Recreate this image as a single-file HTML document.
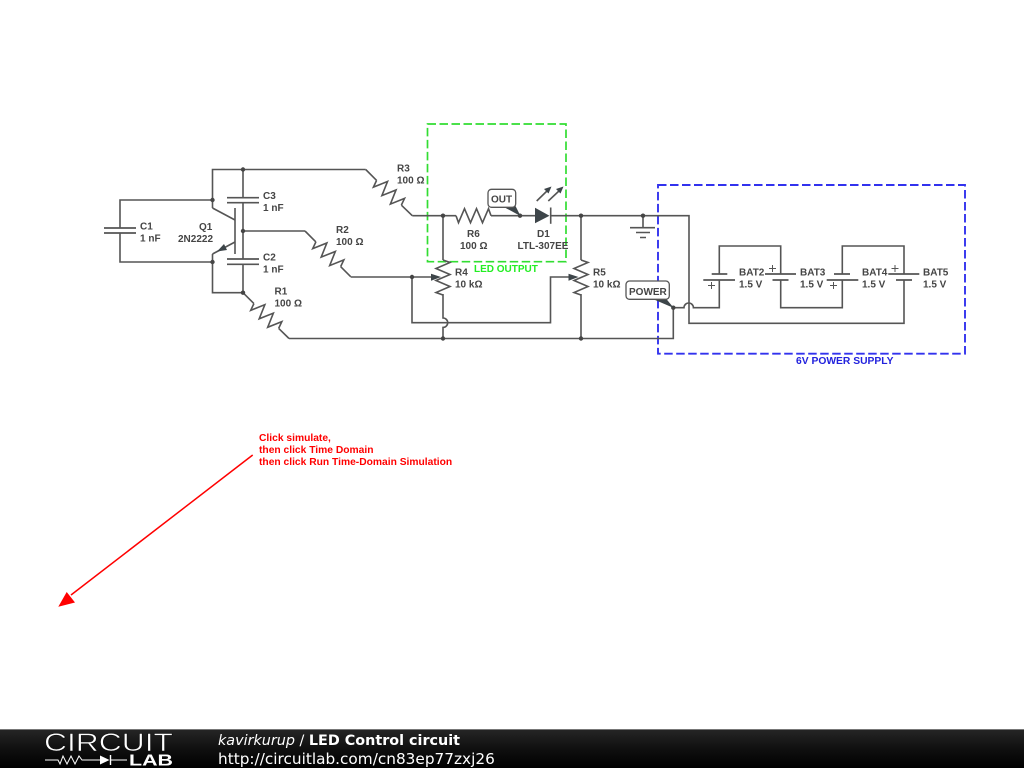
<!DOCTYPE html>
<html><head><meta charset="utf-8"><style>
html,body{margin:0;padding:0;background:#fff;width:1024px;height:768px;overflow:hidden}
svg{display:block}
.w{fill:none;stroke:#555;stroke-width:1.6}
.p{fill:none;stroke:#555;stroke-width:1.7}
text{font-family:"Liberation Sans",sans-serif;font-size:10px;fill:#444;font-weight:bold}
.d{fill:#444}
.f{fill:#fff;stroke:#555;stroke-width:1.3}
.t{fill:#3c4448}
</style></head><body>
<svg width="1024" height="768" viewBox="0 0 1024 768" xmlns="http://www.w3.org/2000/svg">
<defs>
<path id="z" d="M0 0L2.5 7L8.5 -7L14.5 7L20.5 -7L26.5 7L32.5 -7L35 0" fill="none" stroke="#555" stroke-width="1.6" stroke-linejoin="miter"/>
<filter id="b" filterUnits="userSpaceOnUse" x="0" y="0" width="1024" height="768"><feGaussianBlur stdDeviation="0.35"/></filter>
<linearGradient id="g" x1="0" y1="0" x2="0" y2="1"><stop offset="0" stop-color="#262626"/><stop offset="0.5" stop-color="#101010"/><stop offset="1" stop-color="#000"/></linearGradient>
</defs>
<rect width="1024" height="768" fill="#fff"/>
<g filter="url(#b)">
<!-- boxes -->
<rect x="427.5" y="124" width="138.5" height="137.7" fill="none" stroke="#33dd33" stroke-width="1.7" stroke-dasharray="8.5 3.5"/>
<rect x="658" y="185" width="307" height="168.7" fill="none" stroke="#3333ee" stroke-width="1.9" stroke-dasharray="8.5 3.5"/>

<!-- wires left -->
<path class="w" d="M212.5 208V169.5H365.7"/>
<path class="w" d="M212.5 200H120V228M120 233V262H212.5"/>
<path class="w" d="M243 169.5V197.7M243 202.7V259M243 264.3V292.7"/>
<path class="w" d="M212.5 254V292.7H243"/>
<path class="w" d="M243 231H305"/>
<path class="p" d="M104 228H136M104 233H136"/>
<path class="p" d="M227 197.7H259M227 202.7H259M227 259H259M227 264.3H259"/>
<!-- Q1 -->
<path class="w" d="M235 208V254" stroke-width="1.8"/>
<path class="w" d="M212.5 208L235 220M235 242L212.5 254"/>
<path class="t" d="M217 251.5L224 244L227 250Z"/>

<!-- resistors diagonal -->
<path class="w" d="M365.7 169.5L376.6 180.4M401.4 205.2L412.3 215.7"/>
<use href="#z" transform="translate(376.6 180.4) rotate(45)"/>
<path class="w" d="M305 231L315.9 241.9M340.7 266.7L350.7 276.7"/>
<use href="#z" transform="translate(315.9 241.9) rotate(45)"/>
<path class="w" d="M243 292.7L253.9 303.6M278.7 328.4L289 338.5"/>
<use href="#z" transform="translate(253.9 303.6) rotate(45)"/>

<!-- main wires -->
<path class="w" d="M412.3 215.7H456M491 215.7H535M550.7 215.7H689V323.3H904V280"/>
<use href="#z" transform="translate(456 215.7)"/>
<path class="w" d="M350.7 277H432M412 277V322.7H550.5V277H569"/>
<path class="w" d="M289 338.5H673.3V307.7H684A4.7 4.7 0 0 1 693.4 307.7H719.3V280"/>

<!-- R4 R5 -->
<path class="w" d="M443 215.7V260M443 294V318A4.7 4.7 0 0 1 443 327.4V338.5"/>
<use href="#z" transform="translate(443 260) rotate(90) scale(1 -1)"/>
<path class="t" d="M441 277L431 273.7V280.7Z"/>
<path class="w" d="M581 215.7V260M581 294V338.5"/>
<use href="#z" transform="translate(581 260) rotate(90) scale(1 -1)"/>
<path class="t" d="M578.5 277L568.5 273.7V280.7Z"/>

<!-- D1 -->
<path class="t" d="M535 207.7L549.5 215.7L535 223.3Z"/>
<path class="w" d="M550.7 207.5V223.8"/>
<path class="w" d="M536.7 201L548 190" stroke-width="1.2"/>
<path class="t" d="M551.5 186.5L544 189L548.5 193.5Z"/>
<path class="w" d="M548.3 201L560 190" stroke-width="1.2"/>
<path class="t" d="M563.5 186.5L556 189L560.5 193.5Z"/>

<!-- ground -->
<path class="w" d="M643 215.7V227.7M630 227.7H655M636 232.5H650M640 237.5H646"/>

<!-- batteries -->
<path class="w" d="M719.3 274V246H780.7V274"/>
<path class="w" d="M780.7 280V307.7H842.3V280"/>
<path class="w" d="M842.3 274V246H904V274"/>
<path class="p" d="M711.7 274H727.3M703.3 280H735"/>
<path class="p" d="M765 274H796M772.5 280H788.5"/>
<path class="p" d="M834 274H850M826.7 280H858.3"/>
<path class="p" d="M888.3 274H919.3M896 280H912"/>
<path stroke="#555" stroke-width="1" fill="none" d="M708 285.5H715M711.5 282V289M769 268.5H776M772.5 265V272M830 285.5H837M833.5 282V289M891.5 268.5H898.5M895 265V272"/>

<!-- nodes -->
<g class="d">
<circle cx="212.5" cy="200" r="2.2"/><circle cx="212.5" cy="262" r="2.2"/><circle cx="243" cy="169.5" r="2.2"/><circle cx="243" cy="231" r="2.2"/><circle cx="243" cy="292.7" r="2.2"/>
<circle cx="443" cy="215.7" r="2.2"/><circle cx="412" cy="277" r="2.2"/><circle cx="443" cy="338.5" r="2.2"/><circle cx="581" cy="338.5" r="2.2"/><circle cx="581" cy="215.7" r="2.2"/><circle cx="643" cy="215.7" r="2.2"/><circle cx="520" cy="215.7" r="2.2"/><circle cx="673.3" cy="307.7" r="2.2"/>
</g>

<!-- flags -->
<path class="t" d="M502 206L515.5 206L520.5 216Z"/>
<rect class="f" x="488" y="189.3" width="27.7" height="18" rx="3.5"/>
<text x="491" y="202.5">OUT</text>
<path class="t" d="M650.5 298L665.5 298L673.8 308Z"/>
<rect class="f" x="626" y="281" width="43.3" height="18.3" rx="3.5"/>
<text x="629" y="295">POWER</text>

<!-- labels -->
<text x="140" y="229.5">C1</text><text x="140" y="241.5">1 nF</text>
<text x="199" y="230">Q1</text><text x="178" y="242">2N2222</text>
<text x="263" y="199">C3</text><text x="263" y="211">1 nF</text>
<text x="263" y="260.5">C2</text><text x="263" y="272.5">1 nF</text>
<text x="274.5" y="294.5">R1</text><text x="274.5" y="306.5">100 Ω</text>
<text x="336" y="233">R2</text><text x="336" y="245">100 Ω</text>
<text x="397" y="171.5">R3</text><text x="397" y="183.5">100 Ω</text>
<text x="467" y="237">R6</text><text x="460" y="249">100 Ω</text>
<text x="537" y="237">D1</text><text x="517.5" y="249">LTL-307EE</text>
<text x="455" y="275.5">R4</text><text x="455" y="287.5">10 kΩ</text>
<text x="593" y="275.5">R5</text><text x="593" y="287.5">10 kΩ</text>
<text x="739" y="275.5">BAT2</text><text x="739" y="287.5">1.5 V</text>
<text x="800" y="275.5">BAT3</text><text x="800" y="287.5">1.5 V</text>
<text x="862" y="275.5">BAT4</text><text x="862" y="287.5">1.5 V</text>
<text x="923" y="275.5">BAT5</text><text x="923" y="287.5">1.5 V</text>
<text x="474" y="272" style="fill:#22ee22">LED OUTPUT</text>
<text x="796" y="364" style="fill:#2222dd;font-size:10.3px">6V POWER SUPPLY</text>

<!-- red note -->
<path d="M252.7 455L71 595" stroke="#f00" stroke-width="1.5" fill="none"/>
<path d="M58.3 606.7L66.7 592L75 602.5Z" fill="#f00"/>
<text x="259" y="441" style="fill:#f00;font-size:10.27px">Click simulate,</text>
<text x="259" y="453" style="fill:#f00;font-size:10.27px">then click Time Domain</text>
<text x="259" y="465" style="fill:#f00;font-size:10.27px">then click Run Time-Domain Simulation</text>
</g>

<!-- footer -->
<rect y="729" width="1024" height="39" fill="url(#g)"/>
<rect y="729" width="1024" height="1" fill="#777"/>
<text x="44" y="751" textLength="129" lengthAdjust="spacingAndGlyphs" style="font-size:25px;font-weight:normal;fill:#fff;stroke:#111;stroke-width:.6">CIRCUIT</text>
<path d="M45 760H58L60 764L63 756L67 764L71 756L75 764L79 756L82 760H100M110 760H127" fill="none" stroke="#fff" stroke-width="1"/>
<path d="M100 755.5L109.5 760L100 764.5Z M109.8 755H111.2V765H109.8Z" fill="#fff"/>
<text x="129" y="765.5" textLength="44" lengthAdjust="spacingAndGlyphs" style="font-size:16px;font-weight:bold;fill:#fff">LAB</text>
<text x="218" y="745" style="font-family:'DejaVu Sans',sans-serif;font-size:14.35px;font-weight:normal;fill:#fff"><tspan font-style="italic">kavirkurup</tspan> / <tspan font-weight="bold">LED Control circuit</tspan></text>
<text x="218" y="764" style="font-family:'DejaVu Sans',sans-serif;font-size:15.3px;font-weight:normal;fill:#fff">http://circuitlab.com/cn83ep77zxj26</text>
</svg>
</body></html>
